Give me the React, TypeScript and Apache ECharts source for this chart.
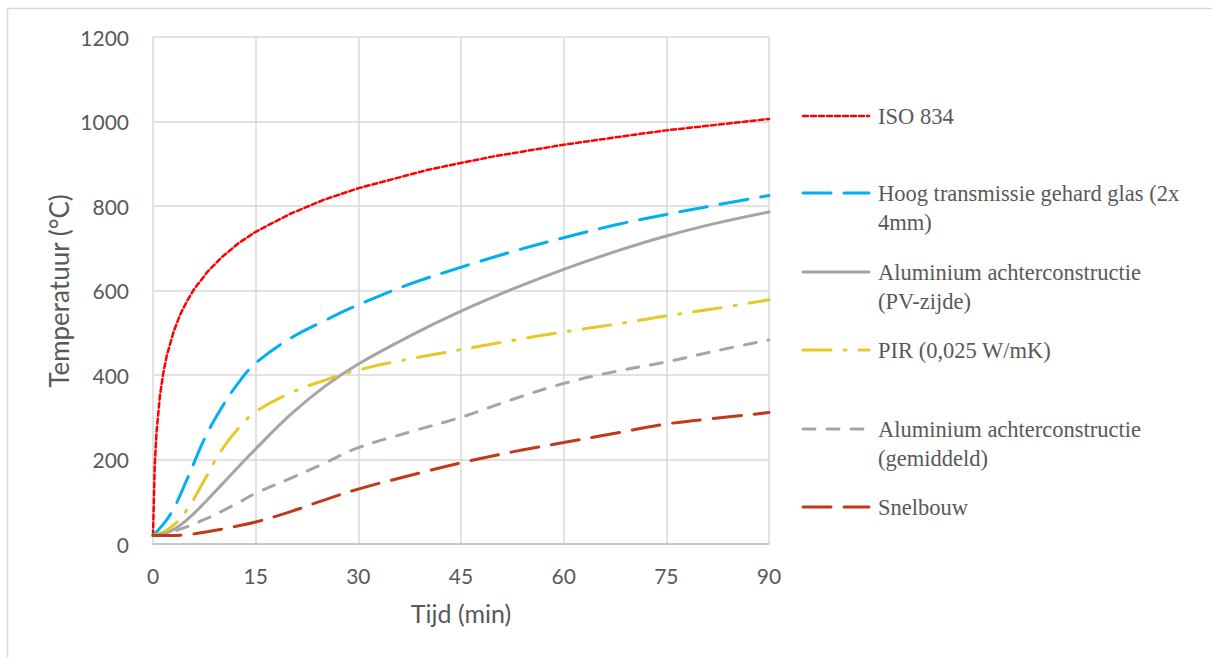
import React, { useEffect, useRef } from "react";
import * as echarts from "echarts";

// ---- data ----
const xTicks = [0, 15, 30, 45, 60, 75, 90];
const yTicks = [0, 200, 400, 600, 800, 1000, 1200];

const isoTime = [0, 0.25, 0.5, 1, 1.5, 2, 3, 4, 5, 6, 8, 10, 12.5, 15, 20, 25, 30, 40, 45, 50, 60, 70, 75, 80, 90];
const isoValues = [20, 185, 261, 349, 404, 445, 502, 544, 576, 603, 645, 678, 712, 739, 781, 815, 842, 885, 902, 918, 945, 968, 979, 988, 1006];

const time = [0, 2.5, 5, 7.5, 10, 12.5, 15, 20, 25, 30, 37.5, 45, 52.5, 60, 67.5, 75, 82.5, 90];
const glasValues = [20, 69, 154, 248, 322, 382, 428, 486, 528, 566, 615, 655, 692, 725, 755, 780, 803, 825];
const aluPvValues = [20, 30, 58, 97, 140, 183, 225, 305, 372, 426, 492, 551, 603, 650, 692, 729, 760, 786];
const pirValues = [20, 38, 82, 151, 222, 274, 313, 357, 387, 412, 438, 460, 482, 502, 520, 540, 558, 578];
const aluAvgValues = [20, 28, 41, 58, 77, 98, 120, 155, 191, 228, 265, 300, 342, 380, 408, 431, 458, 483];
const snelbouwValues = [20, 20, 22, 28, 35, 43, 52, 76, 104, 130, 162, 192, 218, 240, 262, 284, 298, 311];

const seriesNames = [
  "ISO 834",
  "Hoog transmissie gehard glas (2x 4mm)",
  "Aluminium achterconstructie (PV-zijde)",
  "PIR (0,025 W/mK)",
  "Aluminium achterconstructie (gemiddeld)",
  "Snelbouw",
];
const legendLines = [
  ["ISO 834"],
  ["Hoog transmissie gehard glas (2x", "4mm)"],
  ["Aluminium achterconstructie", "(PV-zijde)"],
  ["PIR (0,025 W/mK)"],
  ["Aluminium achterconstructie", "(gemiddeld)"],
  ["Snelbouw"],
];

const pair = (t: number[], v: number[]) => t.map((x, i) => [x, v[i]]);

const styles = [
  { color: "#ff0000", width: 2.5, dash: [5, 3] as any },
  { color: "#00b0f0", width: 3, dash: [28, 13] as any },
  { color: "#a5a5a5", width: 3, dash: "solid" as any },
  { color: "#e6c929", width: 3, dash: [28, 13, 2, 13] as any },
  { color: "#a5a5a5", width: 3, dash: [12, 12] as any },
  { color: "#c0391b", width: 3, dash: [28, 13] as any },
];

const seriesData = [
  pair(isoTime, isoValues),
  pair(time, glasValues),
  pair(time, aluPvValues),
  pair(time, pirValues),
  pair(time, aluAvgValues),
  pair(time, snelbouwValues),
];

export default function App() {
  const ref = useRef<HTMLDivElement>(null);
  useEffect(() => {
    const chart = echarts.init(ref.current!, null, { renderer: "svg" });
    const legendY = [116, 193, 272, 350, 429, 507];
    const graphics: any[] = [
      {
        type: "rect",
        silent: true,
        shape: { x: 7.5, y: 8.5, width: 1300, height: 700 },
        style: { fill: "none", stroke: "#d9d9d9", lineWidth: 1.5 },
      },
      {
        type: "text",
        x: 59,
        y: 291,
        rotation: Math.PI / 2,
        style: {
          text: "Temperatuur (°C)",
          font: '26px Lato',
          fill: "#595959",
          align: "center",
          verticalAlign: "middle",
        },
      },
    ];
    legendLines.forEach((lines, i) => {
      const s = styles[i];
      graphics.push({
        type: "line",
        shape: { x1: 803, y1: legendY[i], x2: 869, y2: legendY[i] },
        style: {
          stroke: s.color,
          lineWidth: s.width,
          lineDash: Array.isArray(s.dash) ? s.dash : null,
          lineCap: "round",
        },
      });
      lines.forEach((txt, j) => {
        graphics.push({
          type: "text",
          x: 878,
          y: legendY[i] + j * 29,
          style: {
            text: txt,
            font: '22.5px "Liberation Serif"',
            fill: "#595959",
            verticalAlign: "middle",
          },
        });
      });
    });

    chart.setOption({
      animation: false,
      grid: { left: 153, top: 37, right: 443, bottom: 113, containLabel: false },
      xAxis: {
        type: "value",
        min: 0,
        max: 90,
        interval: 15,
        axisLine: { show: true, lineStyle: { color: "#bfbfbf", width: 1.5 } },
        axisTick: { show: false },
        axisLabel: {
          color: "#595959",
          fontFamily: "Lato",
          fontSize: 21,
          margin: 21,
          formatter: (v: number) => (xTicks.includes(v) ? String(v) : ""),
        },
        splitLine: { show: true, lineStyle: { color: "#d9d9d9", width: 1.5 } },
        name: "Tijd (min)",
        nameLocation: "middle",
        nameGap: 56,
        nameTextStyle: { color: "#595959", fontFamily: "Lato", fontSize: 25 },
      },
      yAxis: {
        type: "value",
        min: 0,
        max: 1200,
        interval: 200,
        axisLine: { show: false },
        axisTick: { show: false },
        axisLabel: {
          color: "#595959",
          fontFamily: "Lato",
          fontSize: 21,
          margin: 24,
          formatter: (v: number) => (yTicks.includes(v) ? String(v) : ""),
        },
        splitLine: { show: true, lineStyle: { color: "#d9d9d9", width: 1.5 } },
      },
      series: seriesData.map((d, i) => ({
        type: "line",
        name: seriesNames[i],
        data: d,
        showSymbol: false,
        symbol: "none",
        smooth: i === 0 ? false : 0.4,
        lineStyle: {
          color: styles[i].color,
          width: styles[i].width,
          type: styles[i].dash,
          cap: "round",
        },
        z: 2 + i,
      })),
      graphic: graphics,
    });
    return () => chart.dispose();
  }, []);
  return (
    <div
      ref={ref}
      style={{ position: "fixed", left: 0, top: 0, width: 1212, height: 657, background: "#fff" }}
    />
  );
}
